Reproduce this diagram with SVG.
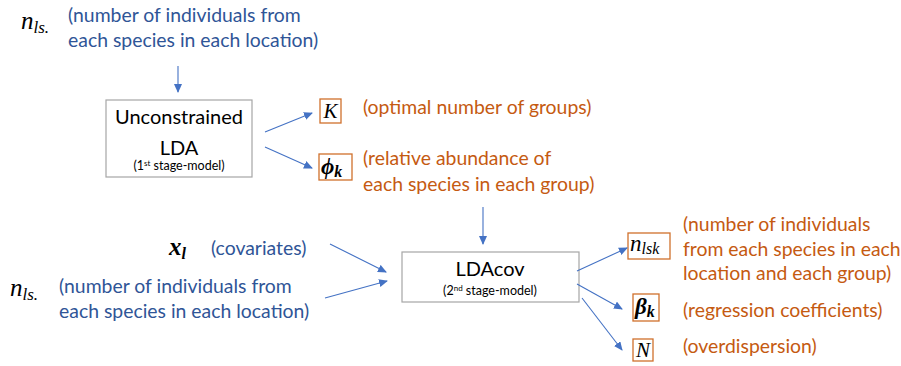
<svg xmlns="http://www.w3.org/2000/svg" width="901" height="366" viewBox="0 0 901 366">
<defs>
<marker id="ah" markerWidth="9" markerHeight="8" refX="8" refY="4" orient="auto" markerUnits="userSpaceOnUse">
<path d="M0,0 L9,4 L0,8 Z" fill="#4472C4"/>
</marker>
<style>
.blue{font-family:Lato,"Liberation Sans",sans-serif;font-size:19.4px;fill:#2F5597}
.orange{font-family:Lato,"Liberation Sans",sans-serif;font-size:19.4px;fill:#C55A11}
.title{font-family:Lato,"Liberation Sans",sans-serif;font-size:20px;fill:#000;text-anchor:middle}
.sub{font-family:Lato,"Liberation Sans",sans-serif;font-size:12.5px;fill:#000;text-anchor:middle}
.math{font-family:"Liberation Serif","DejaVu Serif",serif;font-style:italic;fill:#000}
.bold{font-weight:bold}
.gbox{fill:#fff;stroke:#A6A6A6;stroke-width:1.2}
.obox{fill:#fff;stroke:#D0702C;stroke-width:1.3}
.conn{stroke:#4472C4;stroke-width:1.1;fill:none;marker-end:url(#ah)}
</style>
</defs>
<rect width="901" height="366" fill="#fff"/>

<g id="input1">
<text class="math" x="21" y="29" font-size="25">n<tspan font-size="17" dy="4">ls.</tspan></text>
<text class="blue" x="68" y="22">(number of individuals from</text>
<text class="blue" x="68" y="47">each species in each location)</text>
</g>

<g id="lda">
<rect class="gbox" x="106" y="100" width="146" height="77"/>
<text class="title" x="179" y="124">Unconstrained</text>
<text class="title" x="179" y="155">LDA</text>
<text class="sub" x="179" y="170">(1<tspan font-size="8" dy="-4">st</tspan><tspan dy="4"> stage-model)</tspan></text>
</g>

<g id="K">
<rect class="obox" x="320" y="99" width="21" height="24"/>
<text class="math" x="330.5" y="118" font-size="21" text-anchor="middle">K</text>
<text class="orange" x="363" y="114">(optimal number of groups)</text>
</g>

<g id="phi">
<rect class="obox" x="319" y="154" width="33" height="26"/>
<text class="math bold" x="321" y="174" font-size="23">ϕ<tspan font-size="16" dy="3">k</tspan></text>
<text class="orange" x="363" y="165">(relative abundance of</text>
<text class="orange" x="363" y="191">each species in each group)</text>
</g>

<g id="covariates">
<text class="math bold" x="169" y="255" font-size="25">x<tspan font-size="16" dy="4">l</tspan></text>
<text class="blue" x="211" y="255">(covariates)</text>
</g>

<g id="input2">
<text class="math" x="10" y="296" font-size="25">n<tspan font-size="17" dy="4">ls.</tspan></text>
<text class="blue" x="59" y="293">(number of individuals from</text>
<text class="blue" x="59" y="318">each species in each location)</text>
</g>

<g id="ldacov">
<rect class="gbox" x="402" y="252" width="177" height="50"/>
<text class="title" x="490" y="276">LDAcov</text>
<text class="sub" x="490" y="295">(2<tspan font-size="8" dy="-4">nd</tspan><tspan dy="4"> stage-model)</tspan></text>
</g>

<g id="nlsk">
<rect class="obox" x="628" y="233" width="42" height="26"/>
<text class="math" x="630" y="251" font-size="23">n<tspan font-size="16" dy="3">lsk</tspan></text>
<text class="orange" x="683" y="231">(number of individuals</text>
<text class="orange" x="683" y="256">from each species in each</text>
<text class="orange" x="683" y="280">location and each group)</text>
</g>

<g id="beta">
<rect class="obox" x="633" y="294" width="26" height="27"/>
<text class="math bold" x="635" y="314" font-size="23">β<tspan font-size="16" dy="3">k</tspan></text>
<text class="orange" x="683" y="317">(regression coefficients)</text>
</g>

<g id="N">
<rect class="obox" x="633" y="339" width="20" height="22"/>
<text class="math" x="643" y="357" font-size="21" text-anchor="middle">N</text>
<text class="orange" x="683" y="353">(overdispersion)</text>
</g>

<g id="connectors">
<line class="conn" x1="178" y1="66" x2="178" y2="92"/>
<line class="conn" x1="265" y1="132" x2="312" y2="113"/>
<line class="conn" x1="265" y1="147" x2="312" y2="168"/>
<line class="conn" x1="483" y1="207" x2="483" y2="244"/>
<line class="conn" x1="330" y1="244" x2="386" y2="272"/>
<line class="conn" x1="325" y1="298" x2="387" y2="281"/>
<line class="conn" x1="577" y1="271" x2="627" y2="248"/>
<line class="conn" x1="577" y1="284" x2="622" y2="309"/>
<line class="conn" x1="582" y1="298" x2="622" y2="350"/>
</g>
</svg>
